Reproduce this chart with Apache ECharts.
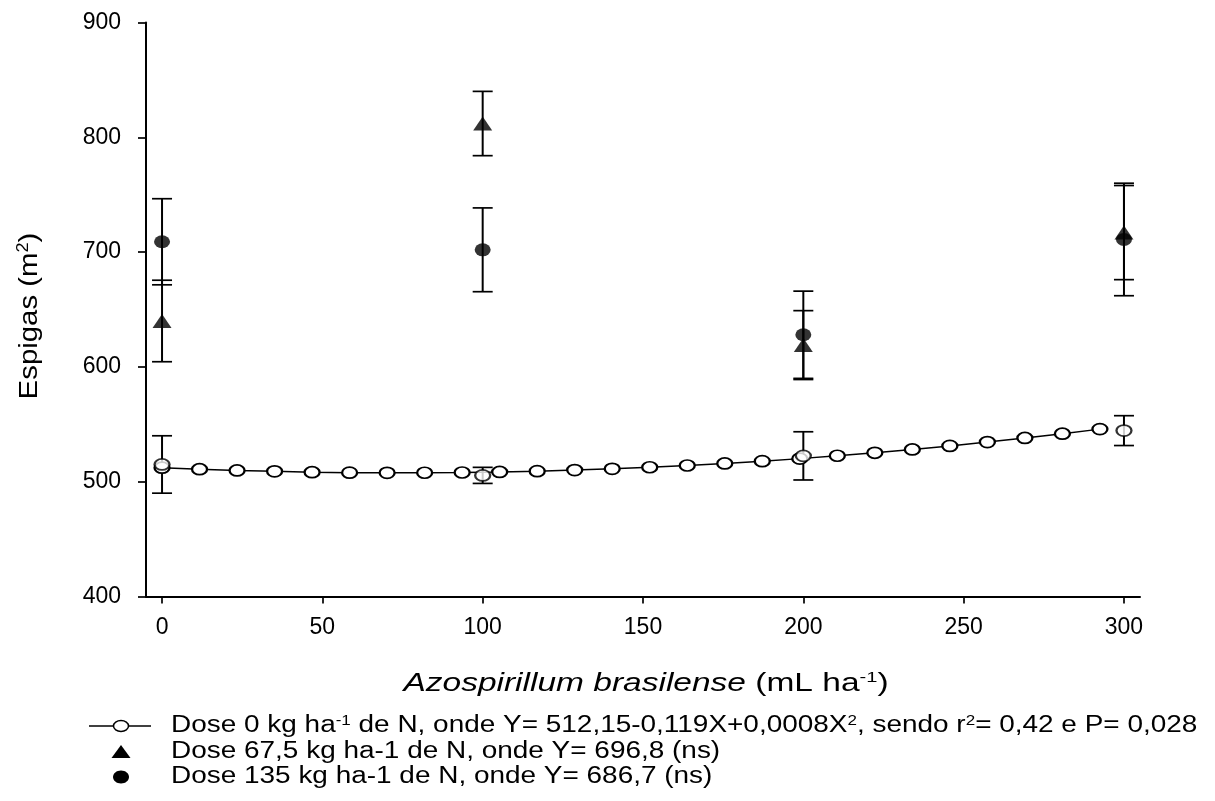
<!DOCTYPE html>
<html>
<head>
<meta charset="utf-8">
<script src="https://cdn.jsdelivr.net/npm/echarts@6/dist/echarts.min.js"></script>
<style>
html,body{margin:0;padding:0;background:#fff;}
#chart{width:1215px;height:801px;}
</style>
</head>
<body>
<div id="chart"></div>
<script>
// ---- data ----
const xTicks = [0, 50, 100, 150, 200, 250, 300];
const doses = [0, 100, 200, 300];

// Dose 0 kg/ha: regression curve (symbols along the fitted line)
const regX = [0, 11.7, 23.4, 35.1, 46.8, 58.5, 70.2, 81.9, 93.6, 105.3, 117, 128.7, 140.4, 152.1, 163.8, 175.5, 187.2, 198.9, 210.6, 222.3, 234, 245.7, 257.4, 269.1, 280.8, 292.5];
const regY = [512.2, 510.9, 509.8, 509.0, 508.3, 507.9, 507.7, 507.8, 508.0, 508.5, 509.2, 510.1, 511.2, 512.6, 514.1, 515.9, 517.9, 520.1, 522.6, 525.2, 528.1, 531.2, 534.5, 538.1, 541.8, 545.8];
// Dose 0 kg/ha: observed means and error
const dose0Mean = [515, 505.5, 522.5, 544.5];
const dose0Err = [25, 7, 21, 13];
// Dose 67,5 kg/ha (triangles)
const dose67Mean = [640, 812, 619, 717];
const dose67Err = [35.5, 28, 30, 41];
// Dose 135 kg/ha (filled circles)
const dose135Mean = [709, 702, 628, 711];
const dose135Err = [37.5, 36.5, 38, 49];

const FF = '"Liberation Sans", Arial, Helvetica, sans-serif';

function pairs(xs, ys) { return xs.map((x, i) => [x, ys[i]]); }
function triples(xs, ys, es) { return xs.map((x, i) => [x, ys[i], es[i]]); }

function errRender(params, api) {
  const x = api.value(0), y = api.value(1), e = api.value(2);
  const t = api.coord([x, y + e]);
  const b = api.coord([x, y - e]);
  const hw = 10;
  return {
    type: 'group',
    children: [
      {type: 'line', shape: {x1: t[0], y1: t[1], x2: b[0], y2: b[1]}, style: {stroke: '#000', lineWidth: 2}},
      {type: 'line', shape: {x1: t[0] - hw, y1: t[1], x2: t[0] + hw, y2: t[1]}, style: {stroke: '#000', lineWidth: 1.7}},
      {type: 'line', shape: {x1: b[0] - hw, y1: b[1], x2: b[0] + hw, y2: b[1]}, style: {stroke: '#000', lineWidth: 1.7}}
    ]
  };
}

function errSeries(data) {
  return {
    type: 'custom', renderItem: errRender, data: data,
    encode: {x: 0, y: 1}, z: 1, silent: true
  };
}

const supRich = {s: {fontSize: 14, fontFamily: FF, fill: '#000', verticalAlign: 'top', lineHeight: 6}};

const legendTexts = [
  'Dose 0 kg ha{s|-1} de N, onde Y= 512,15-0,119X+0,0008X{s|2}, sendo r{s|2}= 0,42 e P= 0,028',
  'Dose 67,5 kg ha-1 de N, onde Y= 696,8 (ns)',
  'Dose 135 kg ha-1 de N, onde Y= 686,7 (ns)'
];
const legY = [726, 752, 777];

const graphics = [];
// legend icons
graphics.push({type: 'line', shape: {x1: 89, y1: legY[0], x2: 151, y2: legY[0]}, style: {stroke: '#000', lineWidth: 1.5}});
graphics.push({type: 'ellipse', shape: {cx: 121, cy: legY[0], rx: 7.5, ry: 5.5}, style: {fill: '#fff', stroke: '#000', lineWidth: 1.5}});
graphics.push({type: 'polygon', shape: {points: [[121, legY[1] - 7], [111.5, legY[1] + 6], [130.5, legY[1] + 6]]}, style: {fill: '#000'}});
graphics.push({type: 'ellipse', shape: {cx: 121, cy: legY[2], rx: 8, ry: 6.5}, style: {fill: '#000'}});
legendTexts.forEach((t, i) => {
  graphics.push({
    type: 'text', x: 171, y: legY[i], scaleX: 1.215,
    style: {text: t, fontSize: 23, fontFamily: FF, fill: '#000', align: 'left', verticalAlign: 'middle', lineHeight: 24, rich: supRich}
  });
});
// axis titles
graphics.push({
  type: 'text', x: 646, y: 684, scaleX: 1.34,
  style: {
    text: '{i|Azospirillum brasilense} (mL ha{s|-1})', fontSize: 25, fontFamily: FF, fill: '#000',
    align: 'center', verticalAlign: 'middle', lineHeight: 28,
    rich: {i: {fontStyle: 'italic', fontSize: 25, fontFamily: FF, fill: '#000', lineHeight: 28}, s: {fontSize: 15, fontFamily: FF, fill: '#000', verticalAlign: 'top', lineHeight: 8}}
  }
});
graphics.push({
  type: 'text', x: 30, y: 316, rotation: Math.PI / 2, scaleX: 1.13,
  style: {
    text: 'Espigas (m{s|2})', fontSize: 26, fontFamily: FF, fill: '#000',
    align: 'center', verticalAlign: 'middle', lineHeight: 28,
    rich: {s: {fontSize: 16, fontFamily: FF, fill: '#000', verticalAlign: 'top', lineHeight: 8}}
  }
});

const chart = echarts.init(document.getElementById('chart'), null, {renderer: 'canvas'});
chart.setOption({
  animation: false,
  backgroundColor: '#fff',
  grid: {left: 146, right: 75, top: 22.5, bottom: 204.5, containLabel: false},
  xAxis: {
    type: 'value', min: -5, max: 305,
    axisLine: {show: true, onZero: false, lineStyle: {color: '#000', width: 2}},
    axisTick: {show: true, customValues: xTicks, length: 7, lineStyle: {color: '#000', width: 1.7}},
    axisLabel: {customValues: xTicks, fontSize: 23, fontFamily: FF, color: '#000', margin: 20},
    splitLine: {show: false}
  },
  yAxis: {
    type: 'value', min: 400, max: 900, interval: 100,
    axisLine: {show: true, onZero: false, lineStyle: {color: '#000', width: 2}},
    axisTick: {show: true, length: 8, lineStyle: {color: '#000', width: 1.7}},
    axisLabel: {fontSize: 23, fontFamily: FF, color: '#000', margin: 25},
    splitLine: {show: false}
  },
  graphic: graphics,
  series: [
    errSeries(triples(doses, dose0Mean, dose0Err)),
    errSeries(triples(doses, dose67Mean, dose67Err)),
    errSeries(triples(doses, dose135Mean, dose135Err)),
    {
      name: 'Dose 0 (regression)', type: 'line', data: pairs(regX, regY), z: 2,
      symbol: 'emptyCircle', symbolSize: [15, 11], showAllSymbol: true,
      lineStyle: {color: '#000', width: 1.5},
      itemStyle: {color: '#000', borderColor: '#000', borderWidth: 1.5}
    },
    {
      name: 'Dose 0', type: 'scatter', data: pairs(doses, dose0Mean), z: 3,
      symbol: 'emptyCircle', symbolSize: [15, 11],
      itemStyle: {color: '#000', borderColor: '#000', borderWidth: 1.5}
    },
    {
      name: 'Dose 135', type: 'scatter', data: pairs(doses, dose135Mean), z: 3,
      symbol: 'circle', symbolSize: [16, 13], itemStyle: {color: '#000'}
    },
    {
      name: 'Dose 67,5', type: 'scatter', data: pairs(doses, dose67Mean), z: 4,
      symbol: 'triangle', symbolSize: [19, 14], itemStyle: {color: '#000'}
    }
  ]
});
</script>
</body>
</html>
